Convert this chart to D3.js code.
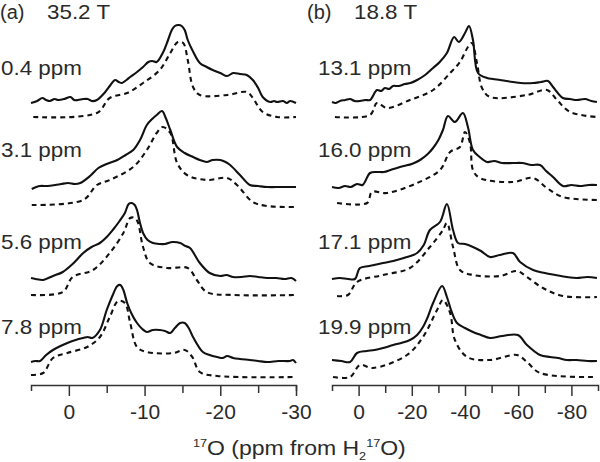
<!DOCTYPE html>
<html><head><meta charset="utf-8">
<script src="https://cdn.jsdelivr.net/npm/d3@7"></script>
<style>
html,body{margin:0;padding:0;background:#fff;}
svg{display:block;}
text{font-family:"Liberation Sans",Arial,Helvetica,sans-serif;fill:#2a2a2a;}
</style></head><body>
<svg id="chart" width="600" height="462"></svg>
<script>
// ---------- DATA ----------
// Panel titles and row labels (isotropic shifts)
const panelTitles = ["(a)  35.2 T", "(b)  18.8 T"];
const labelsA = ["0.4 ppm", "3.1 ppm", "5.6 ppm", "7.8 ppm"];
const labelsB = ["13.1 ppm", "16.0 ppm", "17.1 ppm", "19.9 ppm"];
const ticksMajorA = [0, -10, -20, -30];
const ticksMinorA = [-5, -15, -25];
const ticksMajorB = [0, -20, -40, -60, -80];
const ticksMinorB = [-10, -30, -50, -70];
const domainA = [5, -30];
const domainB = [10, -90];

// Spectra: [ppm, stacked intensity (a.u.)]
// Panel (a) 35.2 T — experimental (solid)
const expA1 = [[5,282],[4.2,284],[3.5,287],[3.0,285],[2.5,284],[1.9,286],[1.4,285],[0.6,286],[-0.2,288],[-0.7,285],[-1.2,285],[-1.9,286],[-2.5,286],[-3.0,284],[-3.7,285],[-4.8,293],[-5.5,300],[-6.1,305],[-6.6,303],[-7.0,302],[-7.6,305],[-8.1,308],[-9.0,313],[-9.8,318],[-10.5,323],[-11.0,324],[-11.6,323],[-12.4,332],[-13.1,345],[-13.6,355],[-14.0,359],[-14.5,360],[-14.9,359],[-15.3,355],[-15.7,345],[-16.3,335],[-17.3,322],[-18.2,318],[-19.0,315],[-20.0,312],[-20.9,309],[-21.7,312],[-22.6,311],[-23.5,310],[-24.3,305],[-25.0,297],[-25.6,288],[-26.6,283],[-27.1,284],[-27.5,283],[-28.3,284],[-28.8,282],[-29.2,284],[-30,282]];
const expA2 = [[4.9,196],[4.3,198],[3.8,199],[2.8,199],[1.8,200],[1.0,201],[0.1,202],[-0.8,201],[-1.5,202],[-2.8,209],[-3.9,217],[-5.0,221],[-6.4,225],[-7.5,230],[-8.5,235],[-9.4,245],[-10.3,260],[-11.0,266],[-11.6,270],[-12.3,274],[-12.8,267],[-13.4,255],[-14.3,238],[-15.3,232],[-16.4,228],[-17.3,225],[-18.2,223],[-19.0,225],[-20.0,225],[-20.7,223],[-21.3,220],[-22.6,210],[-23.9,200],[-25.0,199],[-26.2,198],[-28.0,198],[-30,198]];
const expA3 = [[5,107],[4.4,106],[3.4,105],[2.7,107],[2.1,109],[0.8,113],[-0.5,121],[-1.9,132],[-3.0,138],[-4.1,142],[-5.0,148],[-5.8,155],[-6.7,164],[-7.4,172],[-7.9,181],[-8.3,182],[-8.7,180],[-9.0,175],[-9.4,162],[-9.8,152],[-10.4,145],[-11.1,142],[-12.0,141],[-12.7,141],[-13.7,143],[-14.7,142],[-15.4,139],[-16.0,137],[-17.3,122],[-18.6,112],[-20.0,109],[-20.8,110],[-21.7,108],[-22.8,108],[-23.9,109],[-25.0,108],[-26.2,107],[-27.4,107],[-28.5,106],[-29.4,107],[-30,104]];
const expA4 = [[5,23],[4.4,24],[3.8,24],[3.0,30],[2.1,35],[1.1,39],[0.2,42],[-0.9,45],[-1.9,47],[-2.5,48],[-3.1,47],[-4.1,55],[-5.0,75],[-5.8,90],[-6.4,99],[-6.8,100],[-7.2,95],[-7.7,82],[-8.3,71],[-9.0,62],[-9.7,56],[-10.3,53],[-11.1,55],[-12.0,55],[-12.7,54],[-13.4,52],[-14.0,57],[-14.7,62],[-15.3,62],[-15.9,56],[-16.4,48],[-17.7,33],[-18.6,30],[-19.6,28],[-20.3,27],[-20.9,29],[-21.7,27],[-22.6,26],[-23.9,25],[-25.0,24],[-26.2,23],[-27.7,24],[-29.2,24],[-29.6,25],[-30,22]];
// Panel (a) — simulated (dashed)
const simA1 = [[4.7,268],[-3.7,272],[-5.4,287],[-7.7,292],[-9.8,302],[-12.0,315],[-13.4,332],[-14.4,343],[-15.1,342],[-15.7,325],[-16.4,298],[-17.3,290],[-20.9,290],[-23.5,293],[-24.3,287],[-25.6,273],[-27.5,268],[-30,268]];
const simA2 = [[4.9,180],[-1.9,185],[-3.7,200],[-5.4,205],[-8.5,218],[-10.3,235],[-11.6,252],[-12.4,258],[-13.4,252],[-14.3,222],[-15.6,210],[-18.2,205],[-20.9,207],[-22.2,200],[-24.3,183],[-26.2,179],[-30,178]];
const simA3 = [[5,90],[0.8,93],[-0.5,108],[-3.2,115],[-5.4,132],[-7.2,152],[-8.1,167],[-8.7,167],[-9.1,163],[-9.8,138],[-10.7,122],[-13.0,117],[-15.7,117],[-16.9,105],[-18.2,93],[-21.7,90],[-30,90]];
const simA4 = [[5,10],[3.4,12],[2.1,27],[0.2,32],[-2.4,38],[-4.1,48],[-5.4,68],[-6.5,84],[-7.4,82],[-8.1,62],[-9.0,38],[-10.3,33],[-13.8,32],[-15.3,35],[-16.3,28],[-17.3,13],[-19.6,9],[-30,8]];

// Panel (b) 18.8 T — experimental (solid)
const expB1 = [[10,283],[8.5,282],[7.0,284],[5.0,285],[3.2,286],[1.5,284],[-0.5,284],[-2.5,285],[-4.3,285],[-6.9,295],[-8.5,294],[-9.9,297],[-11.5,296],[-12.9,299],[-15.0,299],[-17.4,301],[-19.5,302],[-22.0,305],[-25.0,310],[-28.0,317],[-30.5,323],[-33.2,332],[-35.9,348],[-37.7,343],[-40.0,352],[-41.5,359],[-43.0,345],[-44.9,312],[-48.3,307],[-50.5,306],[-53.2,305],[-55.5,304],[-58.0,303],[-61.0,302],[-65.6,302],[-68.5,303],[-71.2,304],[-73.1,298],[-76.8,287],[-79.5,286],[-82.1,285],[-85.1,286],[-87.5,284],[-89.6,283]];
const expB2 = [[10,198],[7.5,197],[5.1,199],[3.0,198],[0.6,201],[-1.5,200],[-4.3,212],[-7.0,213],[-9.5,213],[-12.0,215],[-14.4,217],[-17.0,219],[-20.0,221],[-23.1,225],[-26.0,231],[-28.0,237],[-30.0,245],[-31.7,255],[-33.6,269],[-36.2,263],[-39.2,272],[-41.1,258],[-43.0,235],[-45.5,228],[-48.3,223],[-51.0,224],[-54.0,222],[-58.0,222],[-61.5,222],[-65.0,220],[-68.2,220],[-70.5,214],[-73.1,208],[-76.8,199],[-80.0,200],[-83.2,199],[-86.5,200],[-89.6,200]];
const expB3 = [[10,106],[7.0,107],[4.0,106],[1.4,106],[-0.5,117],[-4.0,119],[-9.2,122],[-13.0,124],[-17.0,127],[-22.0,132],[-24.5,140],[-26.8,155],[-30.6,163],[-33.2,181],[-35.5,155],[-37.4,142],[-40.0,141],[-43.0,138],[-46.0,134],[-49.4,128],[-53.0,130],[-58.0,132],[-60.7,123],[-65.6,115],[-70.0,112],[-74.0,110],[-78.3,108],[-82.0,107],[-86.0,108],[-89.6,107]];
const expB4 = [[10,25],[6.5,24],[3.2,23],[0.6,32],[-3.0,34],[-6.0,35],[-9.2,37],[-13.0,40],[-16.0,42],[-19.3,45],[-22.0,50],[-24.2,58],[-26.0,68],[-28.0,82],[-31.4,99],[-33.2,88],[-35.0,73],[-37.0,62],[-40.0,57],[-43.0,53],[-46.0,50],[-49.4,47],[-54.0,49],[-59.9,50],[-63.3,40],[-68.2,30],[-72.0,28],[-75.0,27],[-78.3,25],[-82.0,25],[-86.0,24],[-89.6,24]];
// Panel (b) — simulated (dashed)
const simB1 = [[8.9,268],[-4.3,270],[-6.9,282],[-10.7,277],[-19.3,285],[-28.0,295],[-34.4,312],[-38.1,323],[-41.1,338],[-42.6,342],[-44.5,322],[-46.4,297],[-49.4,288],[-63.3,290],[-70.8,295],[-74.6,285],[-79.5,273],[-89.6,268]];
const simB2 = [[8.1,182],[-3.2,182],[-5.0,193],[-10.7,192],[-22.0,202],[-30.6,215],[-34.4,233],[-38.1,238],[-40.0,253],[-41.9,242],[-43.0,215],[-45.6,207],[-58.0,203],[-65.6,207],[-70.8,197],[-76.8,188],[-89.6,185]];
const simB3 = [[8.1,89],[4.0,90],[0.6,103],[-9.2,110],[-19.3,117],[-26.8,138],[-31.7,155],[-33.2,162],[-35.5,138],[-38.1,115],[-43.0,110],[-53.2,109],[-59.5,114],[-63.3,108],[-69.3,97],[-76.8,89],[-89.6,88]];
const simB4 = [[9.6,8],[3.2,8],[-0.5,20],[-5.4,17],[-18.2,30],[-24.2,48],[-29.5,75],[-31.7,85],[-34.4,72],[-36.2,45],[-40.8,28],[-49.4,25],[-59.5,30],[-63.3,23],[-68.2,12],[-89.6,8]];

// ---------- DRAW ----------
const svg = d3.select("#chart");
const axisY = 385;
const y = d3.scaleLinear().domain([0, 385]).range([axisY, 0]);

const panels = [
  {title: panelTitles[0], labels: labelsA, domain: domainA, range: [31, 296],
   major: ticksMajorA, minor: ticksMinorA, exp: [expA1, expA2, expA3, expA4], sim: [simA1, simA2, simA3, simA4],
   titleX: 0, labelX: 1},
  {title: panelTitles[1], labels: labelsB, domain: domainB, range: [332, 598],
   major: ticksMajorB, minor: ticksMinorB, exp: [expB1, expB2, expB3, expB4], sim: [simB1, simB2, simB3, simB4],
   titleX: 307, labelX: 318}
];
const labelBaselines = [75, 157, 249, 334];

function addText(g, x, yy, str, size, sx) {
  return g.append("text")
    .attr("transform", `translate(${x},${yy}) scale(${sx},1)`)
    .attr("font-size", size)
    .text(str);
}

panels.forEach(p => {
  const x = d3.scaleLinear().domain(p.domain).range(p.range);
  const g = svg.append("g");

  const line = d3.line().x(d => x(d[0])).y(d => y(d[1])).curve(d3.curveCatmullRom.alpha(0.5));

  p.sim.forEach(s => {
    g.append("path").attr("d", line(s)).attr("fill", "none")
      .attr("stroke", "#111").attr("stroke-width", 2.1)
      .attr("stroke-dasharray", "5,4");
  });
  p.exp.forEach(s => {
    g.append("path").attr("d", line(s)).attr("fill", "none")
      .attr("stroke", "#111").attr("stroke-width", 2.1)
      .attr("stroke-linejoin", "round");
  });

  // axis
  const major = d3.axisBottom(x).tickValues(p.major).tickSize(11).tickSizeOuter(6)
    .tickPadding(9).tickFormat(d => String(d));
  const ga = g.append("g").attr("transform", `translate(0,${axisY})`).call(major);
  ga.selectAll("path,line").attr("stroke", "#333").attr("stroke-width", 1.5);
  ga.selectAll("text").attr("font-size", 20).attr("fill", "#2a2a2a")
    .attr("font-family", "Liberation Sans, Arial, sans-serif")
    .attr("transform", "scale(1.05,1)");
  const minor = d3.axisBottom(x).tickValues(p.minor).tickSize(8).tickFormat("");
  const gm = g.append("g").attr("transform", `translate(0,${axisY})`).call(minor);
  gm.select(".domain").remove();
  gm.selectAll("line").attr("stroke", "#333").attr("stroke-width", 1.5);

  const parts = p.title.split("  ");
  addText(g, p.titleX, 19, parts[0], 20, 1.0);
  addText(g, p.titleX + 47, 19, parts[1], 20, 1.12);
  p.labels.forEach((l, i) => addText(g, p.labelX, labelBaselines[i], l, 20, 1.12));
});

// x-axis title: 17O (ppm from H2 17O)
const t = svg.append("text").attr("transform", "translate(193,455) scale(1.15,1)").attr("font-size", 20);
t.append("tspan").attr("font-size", 11).attr("dy", -8).text("17");
t.append("tspan").attr("dy", 8).text("O (ppm from H");
t.append("tspan").attr("font-size", 11).attr("dy", 5).text("2");
t.append("tspan").attr("font-size", 11).attr("dy", -13).text("17");
t.append("tspan").attr("dy", 8).text("O)");
</script>
</body></html>
